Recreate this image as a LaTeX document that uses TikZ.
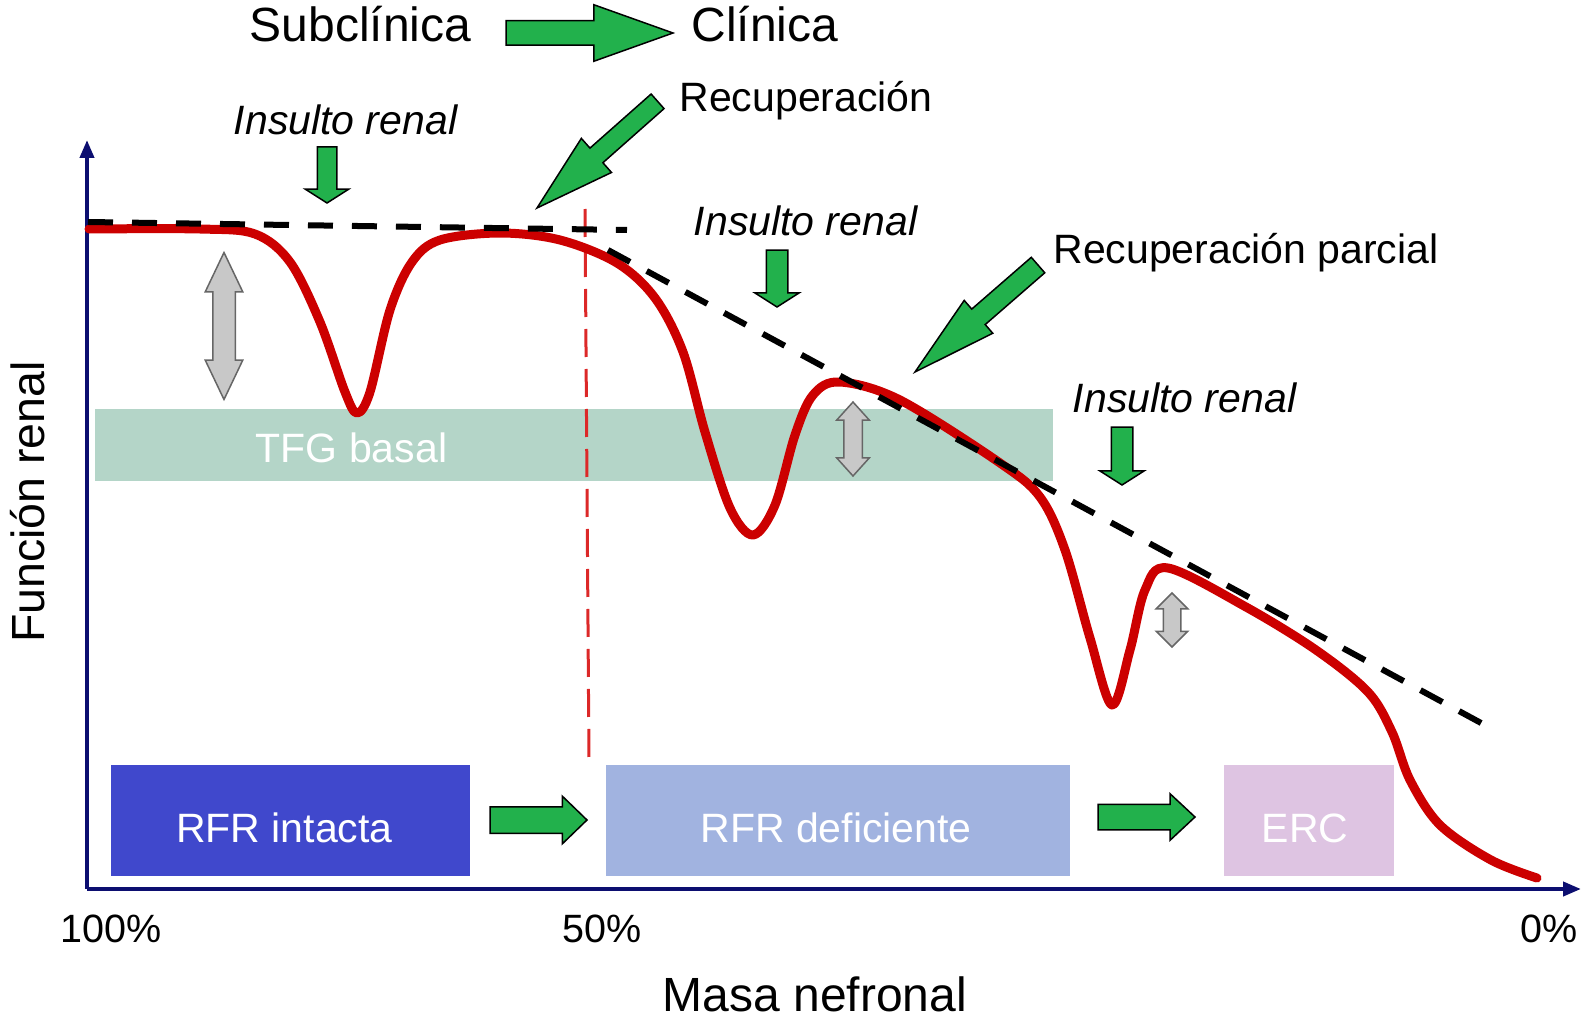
\documentclass[tikz,border=0pt]{standalone}
\usepackage{fontspec}
\setmainfont{Liberation Sans}
\usetikzlibrary{shapes.arrows,arrows.meta}
\definecolor{navy}{RGB}{12,14,112}
\definecolor{curvered}{RGB}{204,0,0}
\definecolor{dashred}{RGB}{220,40,40}
\definecolor{arrowgreen}{RGB}{34,177,76}
\definecolor{bandgreen}{RGB}{180,213,200}
\definecolor{boxone}{RGB}{64,72,204}
\definecolor{boxtwo}{RGB}{161,179,224}
\definecolor{boxthree}{RGB}{222,196,226}
\definecolor{grayfill}{RGB}{200,200,200}
\begin{document}
\begin{tikzpicture}[x=1pt,y=-1pt,
  bigfont/.style={font=\fontsize{48}{56}\selectfont},
  ylabfont/.style={font=\fontsize{46.5}{54}\selectfont},
  midfont/.style={font=\fontsize{41}{48}\selectfont},
  itfont/.style={font=\fontsize{41}{48}\selectfont\itshape},
  pctfont/.style={font=\fontsize{39.5}{46}\selectfont},
  lbl/.style={inner sep=0pt, outer sep=0pt, anchor=base},
  greenarrow/.style={single arrow, draw=black, line width=1.5pt, fill=arrowgreen,
    inner xsep=0pt, outer sep=0pt, minimum width=0pt, anchor=tip},
  grayarrow/.style={double arrow, draw=black!60, line width=1.5pt, fill=grayfill,
    inner xsep=0pt, outer sep=0pt, minimum width=0pt, rotate=90},
  stagebox/.style={inner sep=0pt, outer sep=0pt, draw=none},
  axisline/.style={draw=navy, line width=4pt, -{Triangle[length=18pt,width=14pt]}},
  blackdash/.style={draw=black, line width=6pt, dash pattern=on 25pt off 19pt},
  reddash/.style={draw=dashred, line width=3pt, dash pattern=on 28pt off 12pt},
  curve/.style={draw=curvered, line width=9pt, line cap=round, line join=round}
]
\useasboundingbox (0,0) rectangle (1583,1022);

% TFG band
\node[stagebox, fill=bandgreen, minimum width=958pt, minimum height=72pt] (band) at (574,445) {};
\node[midfont, lbl, text=white] (bandtxt) at (351.5,462) {TFG basal};

% axes
\coordinate (O) at (87,889);
\coordinate (ytop) at (87,140);
\coordinate (xend) at (1581,889);
\draw[axisline] (O) -- (ytop);
\draw[axisline] (O) -- (xend);

% red vertical dashed line
\coordinate (rv1) at (585,209);
\coordinate (rv2) at (589,764);
\draw[reddash] (rv1) -- (rv2);

% red curve
\draw[curve] plot[smooth, tension=0.55] coordinates {
 (89,229) (200,229) (255,234) (290,262) (320,322) (345,392) (357,413)
 (370,392) (390,310) (412,262) (440,240) (500,233) (560,240) (617,263)
 (655,298) (683,352) (705,432) (730,508) (753,535) (775,505) (795,435)
 (813,395) (840,382) (900,400) (1000,463) (1040,497) (1065,550)
 (1090,638) (1112,705) (1130,650) (1145,590) (1168,568) (1246,607)
 (1316,650) (1368,692) (1392,732) (1410,780) (1440,825) (1491,860)
 (1537,878)};

% black dashed lines
\coordinate (d1a) at (88,222);
\coordinate (d1b) at (627,230);
\coordinate (d2a) at (608,250);
\coordinate (d2b) at (1494,730);
\draw[blackdash] (d1a) -- (d1b);
\draw[blackdash] (d2a) -- (d2b);

% gray double arrows
\node[grayarrow, inner ysep=10.5pt, double arrow head extend=7.5pt,
  double arrow tip angle=51, minimum height=147pt] (g1) at (224,326) {};
\node[grayarrow, inner ysep=8.5pt, double arrow head extend=7pt,
  double arrow tip angle=84, minimum height=74pt] (g2) at (853,439) {};
\node[grayarrow, inner ysep=8pt, double arrow head extend=7pt,
  double arrow tip angle=90, minimum height=54pt] (g3) at (1172,620) {};

% title row
\node[bigfont, lbl] (sub) at (360.5,42) {Subclínica};
\node[bigfont, lbl] (cli) at (765,42) {Clínica};
\node[greenarrow, inner ysep=11.5pt, single arrow head extend=16pt,
  single arrow tip angle=39.3, minimum height=167pt] (bigarr) at (673,33) {};

% insult labels and arrows
\node[itfont, lbl] (ins1) at (345.5,135) {Insulto renal};
\node[itfont, lbl] (ins2) at (805.5,235) {Insulto renal};
\node[itfont, lbl] (ins3) at (1184.5,412) {Insulto renal};
\node[greenarrow, rotate=-90, inner ysep=9pt, single arrow head extend=12pt,
  single arrow tip angle=115, minimum height=56pt] (ia1) at (327,203) {};
\node[greenarrow, rotate=-90, inner ysep=10pt, single arrow head extend=11.5pt,
  single arrow tip angle=115, minimum height=57pt] (ia2) at (777,307) {};
\node[greenarrow, rotate=-90, inner ysep=10pt, single arrow head extend=11.5pt,
  single arrow tip angle=115, minimum height=58pt] (ia3) at (1122,485) {};

% recovery labels and arrows
\node[midfont, lbl] (rec) at (806,112) {Recuperación};
\node[midfont, lbl] (recp) at (1246,263) {Recuperación parcial};
\node[greenarrow, rotate=221.5, inner ysep=9pt, single arrow head extend=13pt,
  single arrow tip angle=32, minimum height=161pt] (ra1) at (537,208) {};
\node[greenarrow, rotate=221, inner ysep=9.5pt, single arrow head extend=11.5pt,
  single arrow tip angle=29, minimum height=163pt] (ra2) at (915,372) {};

% stage boxes
\node[stagebox, fill=boxone, minimum width=359pt, minimum height=111pt] (intacta) at (290.5,820.5) {};
\node[stagebox, fill=boxtwo, minimum width=464pt, minimum height=111pt] (defic) at (838,820.5) {};
\node[stagebox, fill=boxthree, minimum width=170pt, minimum height=111pt] (erc) at (1309,820.5) {};
\node[midfont, lbl, text=white] (intactatxt) at (284.5,842) {RFR intacta};
\node[midfont, lbl, text=white] (defictxt) at (836,842) {RFR deficiente};
\node[midfont, lbl, text=white] (erctxt) at (1305,842) {ERC};
\node[greenarrow, inner ysep=12.5pt, single arrow head extend=10.5pt,
  single arrow tip angle=88, minimum height=97pt] (sa1) at (587,820) {};
\node[greenarrow, inner ysep=12pt, single arrow head extend=10.5pt,
  single arrow tip angle=86, minimum height=97pt] (sa2) at (1195,817) {};

% axis labels
\node[pctfont, lbl] (p100) at (111,942) {100\%};
\node[pctfont, lbl] (p50) at (602,942) {50\%};
\node[pctfont, lbl] (p0) at (1549,942) {0\%};
\node[bigfont, lbl] (xlab) at (815,1011) {Masa nefronal};
\node[ylabfont, lbl, rotate=90] (ylab) at (44,502) {Función renal};
\end{tikzpicture}
\end{document}
